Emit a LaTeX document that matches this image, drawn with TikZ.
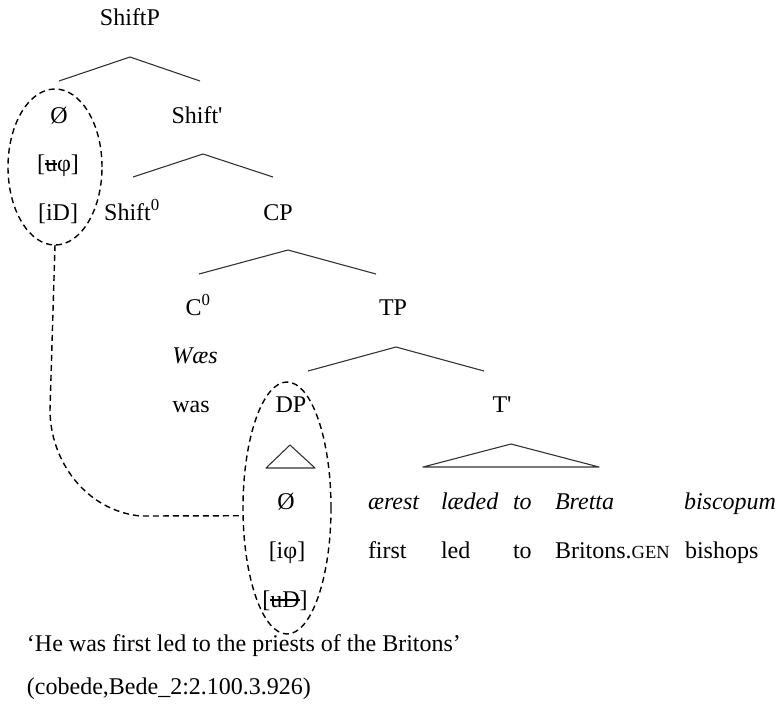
\documentclass[tikz,border=0pt]{standalone}
\usepackage{fontspec}
\setmainfont{Liberation Serif}
\newfontfamily\plainrm{Liberation Serif}
\usetikzlibrary{shapes.geometric}
\newcommand\strk[1]{\setbox0\hbox{#1}\rlap{\rule[0.27em]{\wd0}{0.07em}}\box0}
\begin{document}
\begin{tikzpicture}[x=1pt,y=-1pt,
  every node/.style={font=\fontsize{24}{28}\selectfont, inner sep=0pt, outer sep=0pt, anchor=base},
  wl/.style={anchor=base west},
  br/.style={line width=1.1pt, black!80, line join=round},
  dsh/.style={line width=1.4pt, dash pattern=on 6pt off 4pt}]
\useasboundingbox (0,0) rectangle (778,710);
% tree labels
\node (shiftp) at (130,25) {ShiftP};
\node (null1) at (59,123) {Ø};
\node (shiftbar) at (197,123) {Shift{\plainrm '}};
\node (uphi) at (58,171) {[\strk{u}φ]};
\node (iD) at (58,220) {[iD]};
\node (shift0) at (132,220) {Shift\textsuperscript{0}};
\node (cp) at (278,220) {CP};
\node (c0) at (198,315) {C\textsuperscript{0}};
\node (tp) at (393,315) {TP};
\node (waes) at (195,363) {\itshape Wæs};
\node (was) at (191,412) {was};
\node (dp) at (291,412) {DP};
\node (tbar) at (502,412) {T{\plainrm '}};
\node (null2) at (286,509) {Ø};
\node (iphi) at (287,558) {[iφ]};
\node (uD) at (285,607) {[\strk{uD}]};
% gloss
\node[wl] (w1) at (368,509) {\itshape ærest};
\node[wl] (w2) at (441,509) {\itshape læded};
\node[wl] (w3) at (513,509) {\itshape to};
\node[wl] (w4) at (555,509) {\itshape Bretta};
\node[wl] (w5) at (684,509) {\itshape biscopum};
\node[wl] (g1) at (368,558) {first};
\node[wl] (g2) at (441,558) {led};
\node[wl] (g3) at (513,558) {to};
\node[wl] (g4) at (555,558) {Britons.{\fontsize{18.5}{20}\selectfont GEN}};
\node[wl] (g5) at (685,558) {bishops};
\node[wl] (trans) at (27,651) {‘He was first led to the priests of the Britons’};
\node[wl] (cite) at (27,694) {(cobede,Bede\_2:2.100.3.926)};
% branches
\draw[br] (59,81) -- (130,57) -- (200,81);
\draw[br] (133,177) -- (203,154) -- (273,177);
\draw[br] (199,274) -- (288,250) -- (376,274);
\draw[br] (308,371) -- (396,347) -- (484,371);
\draw[br] (266,468) -- (290,445) -- (315,468) -- cycle;
\draw[br] (423,467) -- (511,444) -- (599,467) -- cycle;
% ellipses and link
\node[draw, dsh, ellipse, minimum width=94, minimum height=156, anchor=center] (e1) at (55,167) {};
\node[draw, dsh, ellipse, minimum width=88, minimum height=252, anchor=center] (e2) at (287,508) {};
\draw[dsh] (e1.south) -- (50,410) .. controls (50,460) and (85,510) .. (140,516) -- (e2.190);
\end{tikzpicture}
\end{document}
